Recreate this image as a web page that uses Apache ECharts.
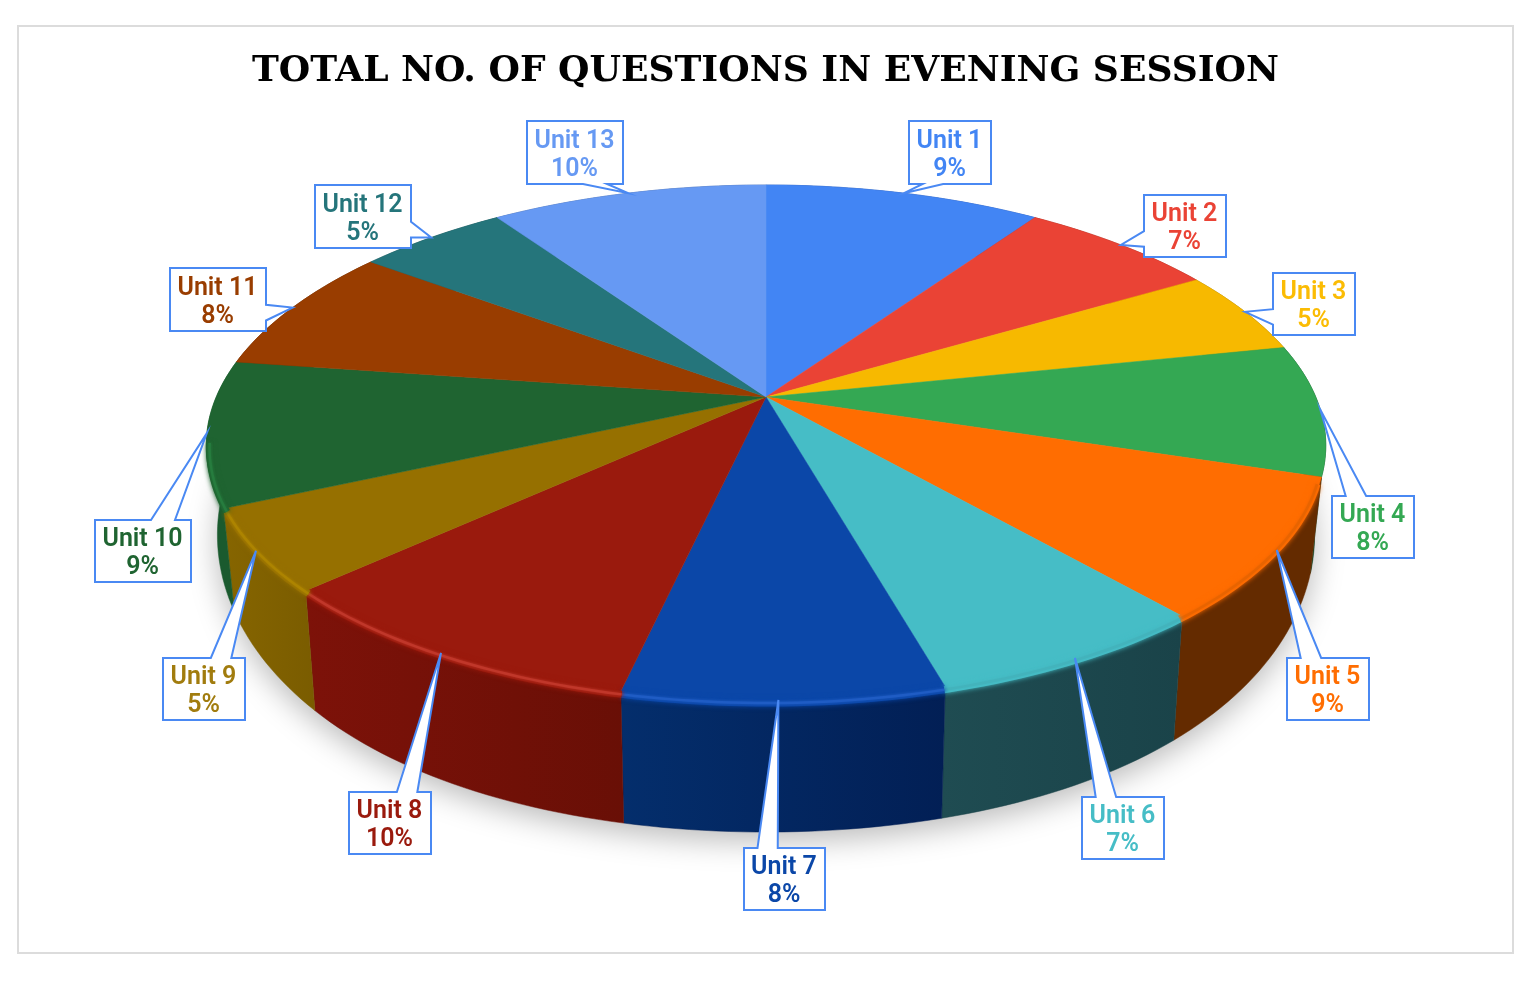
<!DOCTYPE html>
<html>
<head>
<meta charset="utf-8">
<style>html,body{margin:0;padding:0;background:#fff}#c{width:1533px;height:981px}</style>
<script src="https://cdn.jsdelivr.net/npm/echarts@6/dist/echarts.min.js"></script>
</head>
<body>
<div id="c"></div>
<script>
const titleText = 'TOTAL NO. OF QUESTIONS IN EVENING SESSION';
const units = ['Unit 1','Unit 2','Unit 3','Unit 4','Unit 5','Unit 6','Unit 7','Unit 8','Unit 9','Unit 10','Unit 11','Unit 12','Unit 13'];
const shares = [9.45,6.81,5.24,8.25,8.9,7.0,7.85,9.65,5.2,9.15,7.9,5.15,9.45];
const percentLabels = ['9%','7%','5%','8%','9%','7%','8%','10%','5%','9%','8%','5%','10%'];
const topColors = ['#4285f4','#ea4335','#f7b900','#34a853','#ff6d01','#46bdc6','#0b47a8','#9a1a0d','#967000','#1f6431','#993d00','#25757b','#6699f3'];
const labelColors = ['#4285f4','#ea4335','#fbbc04','#34a853','#ff6d01','#46bdc6','#0b47a8','#9a1a0d','#a17c0e','#1f6431','#993d00','#25757b','#6699f3'];
const wallLeft = ['#1c4a9e','#8a2218','#8a6a00','#0f4f26','#642b00','#1f4c52','#042e6c','#7d1209','#866500','#1a5a2e','#5c2500','#15464a','#3d5c92'];
const wallRight = ['#1c4a9e','#8a2218','#8a6a00','#0c4020','#642b00','#1a4349','#021f55','#690f06','#7a5c00','#1a5a2e','#5c2500','#15464a','#3d5c92'];
const rimColors = ['#4285f4','#ea4335','#f7b900','#2c8f47','#e86400','#43b3bc','#1f5cc4','#c0372a','#ad8400','#267c3e','#993d00','#25757b','#6699f3'];
// callout box layout: left, top, right, bottom in page pixels
const calloutBoxes = [[909,121,991,184],[1144,195,1226,257],[1273,273,1355,335],[1332,496,1414,558],[1287,658,1369,720],[1082,797,1164,859],[744,848,825,910],[349,792,431,854],[163,658,245,720],[95,520,191,582],[170,268,266,331],[315,185,411,248],[527,121,623,184]];
// small nudges of the callout tip along the rim, in share units
const tipShift = [0,0,0,0,0,0,0.13,0,0,0,0,0,0];
// part of the rim (in cumulative share) that carries the bevel
const bevelFrom = 30, bevelTo = 72.5;

// perspective disc model
const CX = 766, CY = 397, RX = 551, RY = 249.5, K = 0.1767;
const total = shares.reduce((a, b) => a + b, 0);
const starts = [];
shares.reduce((acc, v, i) => { starts[i] = acc; return acc + v; }, 0);

function topPoint(share) {
  const a = share / total * Math.PI * 2;
  const u = Math.sin(a), v = -Math.cos(a), d = 1 - K * v;
  return [CX + RX * u / d, CY + RY * v / d + 3 * u * u];
}
function basePoint(share) {
  const p = topPoint(share);
  const u2 = Math.pow(Math.sin(share / total * Math.PI * 2), 2);
  return [CX + 0.98 * (p[0] - CX), 1.17 * p[1] + 13 + 26 * u2 * (1 - u2)];
}
function insetPoint(share, dy) {
  const p = topPoint(share);
  return [p[0] + (CX - p[0]) * 0.006, p[1] + dy];
}
function arc(fn, from, to) {
  const pts = [], n = Math.max(8, Math.ceil((to - from) * 3));
  for (let i = 0; i <= n; i++) pts.push(fn(from + (to - from) * i / n));
  return pts;
}
function calloutPoints(box, tip) {
  const [l, t, r, b] = box, w = r - l, h = b - t;
  const dx = tip[0] - (l + r) / 2, dy = tip[1] - (t + b) / 2;
  const pts = [[l, t]];
  const xa = dx < 0 ? l + w * 2 / 12 : l + w * 7 / 12, xb = dx < 0 ? l + w * 5 / 12 : l + w * 10 / 12;
  const ya = dy < 0 ? t + h * 2 / 12 : t + h * 7 / 12, yb = dy < 0 ? t + h * 5 / 12 : t + h * 10 / 12;
  const vertical = Math.abs(dy) / h > Math.abs(dx) / w;
  if (vertical && dy < 0) pts.push([xa, t], tip, [xb, t]);
  pts.push([r, t]);
  if (!vertical && dx > 0) pts.push([r, ya], tip, [r, yb]);
  pts.push([r, b]);
  if (vertical && dy > 0) pts.push([xb, b], tip, [xa, b]);
  pts.push([l, b]);
  if (!vertical && dx < 0) pts.push([l, yb], tip, [l, ya]);
  return pts;
}

const seriesData = shares.map((v, i) => ({ name: units[i], value: v }));
const custom = (renderItem, z, data) => ({ type: 'custom', coordinateSystem: 'none', silent: true, animation: false, z, data: data || seriesData, renderItem });

const option = {
  animation: false,
  backgroundColor: '#fff',
  title: {
    text: titleText, left: 760.5, top: 49, textAlign: 'center',
    textStyle: { fontFamily: 'DejaVu Serif', fontWeight: 'bold', fontSize: 36.1, color: '#000' }
  },
  graphic: [{
    type: 'rect', z: 0, silent: true,
    shape: { x: 18, y: 26, width: 1495, height: 927 },
    style: { fill: '#fff', stroke: '#dcdcdc', lineWidth: 2 }
  }],
  series: [
    // soft drop shadow under the disc
    custom(() => ({
      type: 'polygon',
      shape: { points: arc(basePoint, 0, total) },
      style: { fill: '#ddd', shadowBlur: 30, shadowColor: 'rgba(0,0,0,0.27)', shadowOffsetY: 9 }
    }), 1, [{ name: 'shadow', value: total }]),
    // side walls
    custom((p) => {
      const i = p.dataIndex, a = starts[i], b = a + shares[i];
      const pts = arc(topPoint, a, b).concat(arc(basePoint, a, b).reverse());
      return {
        type: 'polygon', shape: { points: pts },
        style: {
          fill: { type: 'linear', x: 0, y: 0, x2: 1, y2: 0, colorStops: [{ offset: 0, color: wallLeft[i] }, { offset: 1, color: wallRight[i] }] },
          stroke: wallRight[i], lineWidth: 0.5
        }
      };
    }, 2),
    // top wedges
    custom((p) => {
      const i = p.dataIndex, a = starts[i], b = a + shares[i];
      return {
        type: 'polygon', shape: { points: [[CX, CY]].concat(arc(topPoint, a, b)) },
        style: { fill: topColors[i], stroke: topColors[i], lineWidth: 0.5 }
      };
    }, 3),
    // bevel band and highlight along the near rim
    custom((p) => {
      const i = p.dataIndex;
      const a = Math.max(starts[i], bevelFrom), b = Math.min(starts[i] + shares[i], bevelTo);
      if (b <= a) return null;
      return {
        type: 'group',
        children: [
          { type: 'polyline', shape: { points: arc((s) => insetPoint(s, 3), a, b) },
            style: { fill: null, stroke: topColors[i], lineWidth: 7, shadowBlur: 5, shadowColor: topColors[i] } },
          { type: 'polyline', shape: { points: arc((s) => insetPoint(s, 3), a, b) },
            style: { fill: null, stroke: rimColors[i], lineWidth: 2.5, shadowBlur: 3, shadowColor: rimColors[i] } }
        ]
      };
    }, 4),
    // callouts
    custom((p) => {
      const i = p.dataIndex, box = calloutBoxes[i];
      const tip = topPoint(starts[i] + shares[i] / 2 + tipShift[i]);
      const tx = (box[0] + box[2]) / 2 - 0.5, ty = (box[1] + box[3]) / 2;
      const textStyle = { fill: labelColors[i], fontFamily: 'Roboto', fontWeight: 600, fontSize: 25, align: 'center', verticalAlign: 'middle' };
      return {
        type: 'group',
        children: [
          { type: 'polygon', shape: { points: calloutPoints(box, tip) }, style: { fill: '#fff', stroke: '#4a89f3', lineWidth: 2, lineJoin: 'miter' } },
          { type: 'text', style: Object.assign({ x: tx, y: ty - 11, text: units[i] }, textStyle) },
          { type: 'text', style: Object.assign({ x: tx, y: ty + 17, text: percentLabels[i] }, textStyle) }
        ]
      };
    }, 5)
  ]
};
echarts.init(document.getElementById('c'), null, { width: 1533, height: 981 }).setOption(option);
</script>
</body>
</html>
